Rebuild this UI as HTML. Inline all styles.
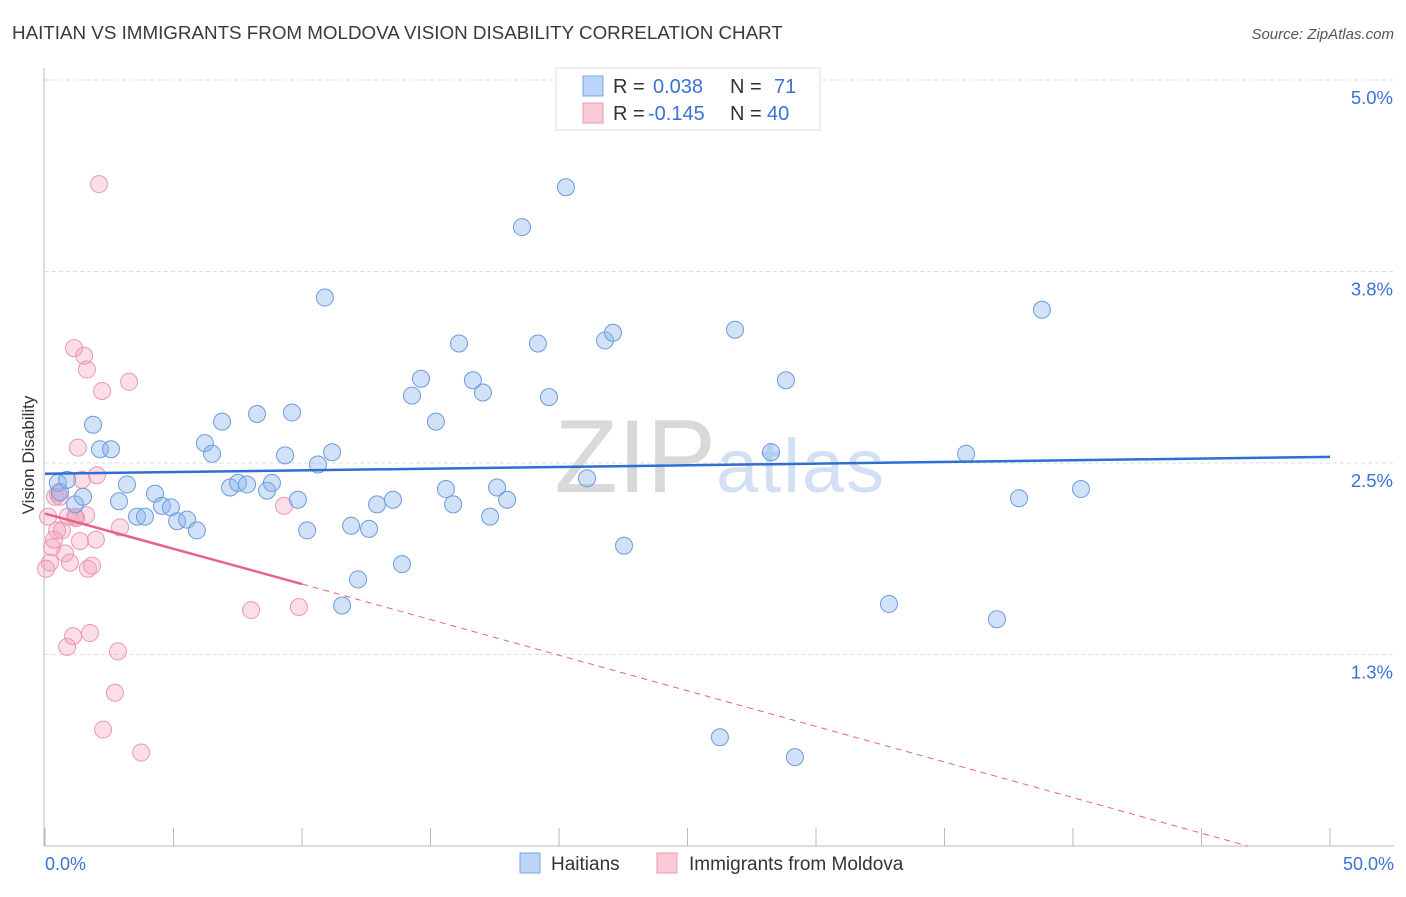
<!DOCTYPE html>
<html><head><meta charset="utf-8"><style>
body{margin:0;background:#fff;font-family:"Liberation Sans",sans-serif;}
svg text{font-family:"Liberation Sans",sans-serif;}
</style></head><body>
<svg width="1406" height="892" viewBox="0 0 1406 892">
<text x="12" y="39" font-size="18.8" fill="#3a3a3a">HAITIAN VS IMMIGRANTS FROM MOLDOVA VISION DISABILITY CORRELATION CHART</text>
<text x="1394" y="39" font-size="15" fill="#555" text-anchor="end" font-style="italic">Source: ZipAtlas.com</text>
<g id="grid"></g>
<line x1="44" y1="68" x2="44" y2="846" stroke="#bbb"/>
<line x1="44" y1="846" x2="1394" y2="846" stroke="#bbb"/>
<text x="716" y="492" font-size="104" fill="#d9d9d9" text-anchor="end" font-family="Liberation Serif">ZIP</text>
<text x="716" y="492" font-size="76" fill="#d3e0f3" textLength="168">atlas</text>
<text x="34" y="455" font-size="17" fill="#333" text-anchor="middle" transform="rotate(-90 34 455)">Vision Disability</text>
<text x="45" y="870" font-size="18" fill="#3a72d4">0.0%</text>
<text x="1394" y="870" font-size="18" fill="#3a72d4" text-anchor="end">50.0%</text>
<g id="marks"></g>
<g>
<rect x="556" y="68" width="264" height="62" fill="#fff" stroke="#ddd"/>
<rect x="583" y="76" width="20" height="20" fill="#bcd3f5" stroke="#7aa4e6"/>
<rect x="583" y="103" width="20" height="20" fill="#f9c9d6" stroke="#ef9ab3"/>
<text x="613" y="93" font-size="20" fill="#333">R =</text>
<text x="653" y="93" font-size="20" fill="#3a72d4">0.038</text>
<text x="730" y="93" font-size="20" fill="#333">N =</text>
<text x="774" y="93" font-size="20" fill="#3a72d4">71</text>
<text x="613" y="120" font-size="20" fill="#333">R =</text>
<text x="648" y="120" font-size="20" fill="#3a72d4">-0.145</text>
<text x="730" y="120" font-size="20" fill="#333">N =</text>
<text x="767" y="120" font-size="20" fill="#3a72d4">40</text>
</g>
<g>
<rect x="520" y="853" width="20" height="20" fill="#bcd3f5" stroke="#7aa4e6"/>
<text x="551" y="870" font-size="19" fill="#333">Haitians</text>
<rect x="657" y="853" width="20" height="20" fill="#f9c9d6" stroke="#ef9ab3"/>
<text x="689" y="870" font-size="19" fill="#333">Immigrants from Moldova</text>
</g>
</svg>
<script>
const yTicks=[1.25,2.5,3.75,5.0];
const yTickLabels=["1.3%","2.5%","3.8%","5.0%"];
const xTicks=[0,5,10,15,20,25,30,35,40,45,50];
const haitiansX=[0.5,0.58,0.86,1.17,1.48,1.87,2.14,2.57,2.88,3.19,3.58,3.89,4.28,4.55,4.9,5.14,5.53,5.91,6.22,6.5,6.89,7.2,7.51,7.86,8.25,8.64,8.83,9.34,9.61,9.84,10.2,10.62,10.89,11.17,11.56,11.91,12.18,12.61,12.92,13.54,13.89,14.28,14.63,15.21,15.6,15.88,16.11,16.65,17.04,17.32,17.59,17.98,18.56,19.18,19.61,20.27,21.09,21.79,22.1,22.53,26.26,26.85,28.25,28.83,29.18,32.84,35.84,37.04,37.9,38.79,40.31];
const haitiansY=[2.37,2.31,2.39,2.23,2.28,2.75,2.59,2.59,2.25,2.36,2.15,2.15,2.3,2.22,2.21,2.12,2.13,2.06,2.63,2.56,2.77,2.34,2.37,2.36,2.82,2.32,2.37,2.55,2.83,2.26,2.06,2.49,3.58,2.57,1.57,2.09,1.74,2.07,2.23,2.26,1.84,2.94,3.05,2.77,2.33,2.23,3.28,3.04,2.96,2.15,2.34,2.26,4.04,3.28,2.93,4.3,2.4,3.3,3.35,1.96,0.71,3.37,2.57,3.04,0.58,1.58,2.56,1.48,2.27,3.5,2.33];
const moldovaX=[0.12,0.19,0.27,0.35,0.39,0.47,0.5,0.66,0.78,0.86,0.97,1.09,1.13,1.21,1.28,1.36,1.44,1.52,1.6,1.63,1.67,1.75,1.83,1.98,2.02,2.1,2.22,2.26,2.72,2.84,2.92,3.27,3.74,8.02,9.3,9.88,0.04,0.58,0.89,1.17];
const moldovaY=[2.15,1.85,1.95,2.0,2.28,2.06,2.3,2.06,1.91,1.3,1.85,1.37,3.25,2.14,2.6,1.99,2.39,3.2,2.16,3.11,1.81,1.39,1.83,2.0,2.42,4.32,2.97,0.76,1.0,1.27,2.08,3.03,0.61,1.54,2.22,1.56,1.81,2.28,2.15,2.15];
const blueTrend=[[0,2.43],[50,2.54]];
const pinkTrend=[[0,2.17],[10,1.71],[46.8,0]];
const X0=45,X1=1330,Y0=846,PY=153.2;
const sx=v=>X0+(X1-X0)*v/50, sy=v=>Y0-v*PY;
const NS="http://www.w3.org/2000/svg";
const grid=document.getElementById('grid'), marks=document.getElementById('marks');
function mk(tag,attrs,parent){const e=document.createElementNS(NS,tag);for(const k in attrs)e.setAttribute(k,attrs[k]);parent.appendChild(e);return e;}
yTicks.forEach((t,i)=>{
 const l=mk('line',{x1:45,x2:1394,y1:sy(t),y2:sy(t),stroke:'#ddd','stroke-dasharray':'4 3'},grid);
 
 
 const tx=mk('text',{x:1393,y:sy(t)+24,'font-size':18.5,fill:'#3a72d4','text-anchor':'end'},grid);
 tx.textContent=yTickLabels[i];
 
 
});
xTicks.forEach(t=>{
 const l=mk('line',{x1:sx(t),x2:sx(t),y1:828,y2:846,stroke:'#bbb'},grid);
 
 
});
moldovaX.forEach((x,i)=>{
 const c=mk('circle',{cx:sx(x),cy:sy(moldovaY[i]),r:8.5,fill:'rgba(244,160,185,0.35)',stroke:'#ec98b2','stroke-width':1},marks);
 
 
});
haitiansX.forEach((x,i)=>{
 const c=mk('circle',{cx:sx(x),cy:sy(haitiansY[i]),r:8.5,fill:'rgba(140,180,235,0.4)',stroke:'#6b9be0','stroke-width':1},marks);
 
 
});
const bt=mk('line',{x1:sx(blueTrend[0][0]),y1:sy(blueTrend[0][1]),x2:sx(blueTrend[1][0]),y2:sy(blueTrend[1][1]),stroke:'#2f6fd0','stroke-width':2.5},marks);


const pt=mk('line',{x1:sx(pinkTrend[0][0]),y1:sy(pinkTrend[0][1]),x2:sx(pinkTrend[1][0]),y2:sy(pinkTrend[1][1]),stroke:'#e8608c','stroke-width':2.5},marks);


const pd=mk('line',{x1:sx(pinkTrend[1][0]),y1:sy(pinkTrend[1][1]),x2:sx(pinkTrend[2][0]),y2:sy(pinkTrend[2][1]),stroke:'#e8608c','stroke-width':1,'stroke-dasharray':'6 5'},marks);


</script>
</body></html>
